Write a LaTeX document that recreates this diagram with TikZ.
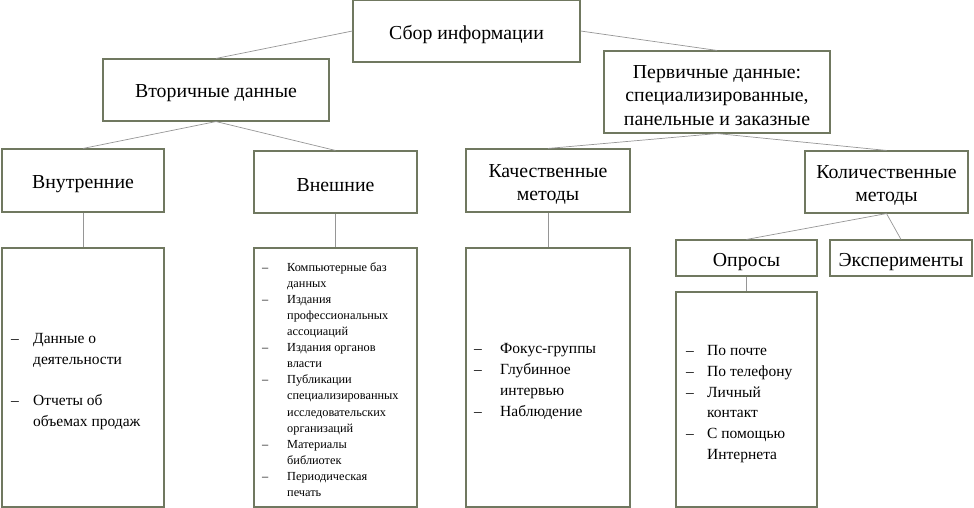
\documentclass[tikz,border=0pt]{standalone}
\usepackage{fontspec}
\setmainfont{Liberation Serif}
\definecolor{boxc}{RGB}{112,120,96}
\definecolor{linec}{RGB}{150,150,150}
\newcommand{\dsh}[1]{\makebox[#1][l]{–}}
\begin{document}
\begin{tikzpicture}[x=1pt,y=-1pt,
  hbox/.style={draw=boxc,line width=1.1pt,fill=white,inner sep=0pt},
  htext/.style={inner sep=0pt,align=center,font=\fontsize{19.8}{23.5}\selectfont},
  cbox/.style={draw=boxc,line width=1.1pt,fill=white,inner sep=0pt},
  ctext/.style={anchor=west,inner sep=0pt,align=left},
  conn/.style={draw=linec,line width=0.7pt}]
\useasboundingbox (0,0) rectangle (974,508);
% header boxes
\node[hbox,minimum width=227pt,minimum height=62pt] (sbor) at (466.5,31) {};
\node[hbox,minimum width=226pt,minimum height=62pt] (vtor) at (216,90) {};
\node[hbox,minimum width=226pt,minimum height=82pt] (perv) at (717,92) {};
\node[hbox,minimum width=162pt,minimum height=63pt] (vnut) at (83,180.5) {};
\node[hbox,minimum width=163pt,minimum height=62pt] (vnesh) at (335.5,182) {};
\node[hbox,minimum width=164pt,minimum height=63pt] (kach) at (548,180.5) {};
\node[hbox,minimum width=163pt,minimum height=62pt] (kol) at (886.5,182) {};
\node[hbox,minimum width=141pt,minimum height=36pt] (opr) at (746.5,258) {};
\node[hbox,minimum width=142pt,minimum height=36pt] (exp) at (901,258) {};
% header texts
\node[htext] (sbor-t) at ([yshift=-3.5pt]sbor.center) {Сбор информации};
\node[htext] (vtor-t) at ([yshift=-3.5pt]vtor.center) {Вторичные данные};
\node[htext] (perv-t) at ([yshift=-3.5pt]perv.center) {Первичные данные:\\специализированные,\\панельные и заказные};
\node[htext] (vnut-t) at ([yshift=-4pt]vnut.center) {Внутренние};
\node[htext] (vnesh-t) at ([yshift=-3.5pt]vnesh.center) {Внешние};
\node[htext] (kach-t) at ([yshift=-4pt]kach.center) {Качественные\\методы};
\node[htext] (kol-t) at ([yshift=-3.5pt]kol.center) {Количественные\\методы};
\node[htext] (opr-t) at ([yshift=-4pt]opr.center) {Опросы};
\node[htext] (exp-t) at ([yshift=-4pt]exp.center) {Эксперименты};
% content boxes
\node[cbox,minimum width=162pt,minimum height=259pt] (c1) at (83,377.5) {};
\node[cbox,minimum width=163pt,minimum height=259pt] (c2) at (335.5,377.5) {};
\node[cbox,minimum width=164pt,minimum height=259pt] (c3) at (548,377.5) {};
\node[cbox,minimum width=141pt,minimum height=215pt] (c4) at (746.5,399.5) {};
% content texts
\node[ctext,font=\fontsize{15.5}{21.5}\selectfont] (t1) at (11,381.5)
  {\dsh{22pt}Данные о\\\hspace*{22pt}деятельности\\[19pt]\dsh{22pt}Отчеты об\\\hspace*{22pt}объемах продаж};
\node[ctext,font=\fontsize{12.3}{16.1}\selectfont] (t2) at (262,379.5)
  {\dsh{25pt}Компьютерные баз\\\hspace*{25pt}данных\\
   \dsh{25pt}Издания\\\hspace*{25pt}профессиональных\\\hspace*{25pt}ассоциаций\\
   \dsh{25pt}Издания органов\\\hspace*{25pt}власти\\
   \dsh{25pt}Публикации\\\hspace*{25pt}специализированных\\\hspace*{25pt}исследовательских\\\hspace*{25pt}организаций\\
   \dsh{25pt}Материалы\\\hspace*{25pt}библиотек\\
   \dsh{25pt}Периодическая\\\hspace*{25pt}печать};
\node[ctext,font=\fontsize{15.5}{20.8}\selectfont] (t3) at (474,381.5)
  {\dsh{26pt}Фокус-группы\\\dsh{26pt}Глубинное\\\hspace*{26pt}интервью\\\dsh{26pt}Наблюдение};
\node[ctext,font=\fontsize{15.5}{20.8}\selectfont] (t4) at (686,404)
  {\dsh{21pt}По почте\\\dsh{21pt}По телефону\\\dsh{21pt}Личный\\\hspace*{21pt}контакт\\\dsh{21pt}С помощью\\\hspace*{21pt}Интернета};
% connectors
\draw[conn] (sbor.west) -- (vtor.north);
\draw[conn] (sbor.east) -- (perv.north);
\draw[conn] (vtor.south) -- (vnut.north);
\draw[conn] (vtor.south) -- (vnesh.north);
\draw[conn] (vnut.south) -- (c1.north);
\draw[conn] (vnesh.south) -- (c2.north);
\draw[conn] (perv.south) -- (kach.north);
\draw[conn] (perv.south) -- (kol.north);
\draw[conn] (kach.south) -- (c3.north);
\draw[conn] (kol.south) -- (opr.north);
\draw[conn] (kol.south) -- (exp.north);
\draw[conn] (opr.south) -- (c4.north);
\end{tikzpicture}
\end{document}
